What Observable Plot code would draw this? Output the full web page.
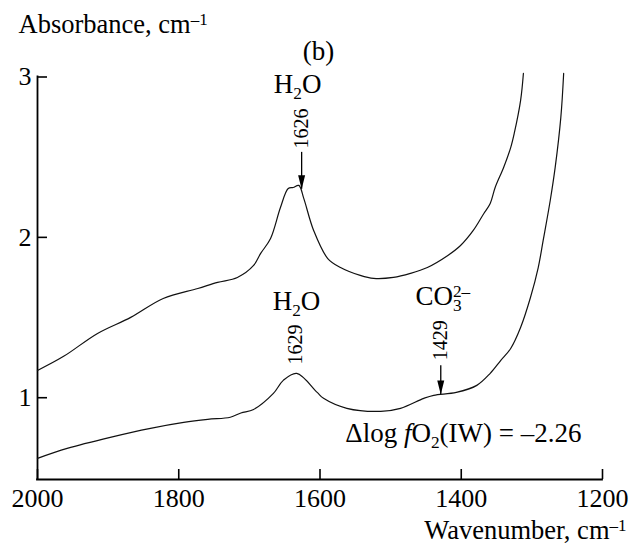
<!DOCTYPE html>
<html>
<head>
<meta charset="utf-8">
<script src="https://cdn.jsdelivr.net/npm/d3@7"></script>
<script src="https://cdn.jsdelivr.net/npm/@observablehq/plot@0.6"></script>
<style>
  html, body { margin: 0; padding: 0; background: #fff; overflow: hidden; }
  svg { display: block; }
  #chart svg, #chart svg text, #chart svg tspan {
    font-family: "Liberation Serif", "Times New Roman", "DejaVu Serif", serif !important;
  }
</style>
</head>
<body>
<div id="chart"></div>
<script>
// IR absorbance spectra, wavenumber (cm^-1) vs absorbance (cm^-1)
const upperW = [2000, 1963, 1915, 1868, 1822, 1773, 1745, 1717, 1694, 1684, 1670, 1656, 1645, 1638, 1630, 1623, 1609, 1589, 1571, 1543, 1524, 1496, 1472, 1448, 1419, 1401, 1383, 1368, 1359, 1352, 1340, 1330, 1325, 1316, 1312];
const upperA = [1.170, 1.258, 1.401, 1.501, 1.619, 1.681, 1.719, 1.750, 1.825, 1.900, 1.993, 2.186, 2.305, 2.311, 2.324, 2.243, 2.043, 1.868, 1.812, 1.763, 1.744, 1.750, 1.775, 1.812, 1.887, 1.949, 2.043, 2.149, 2.211, 2.311, 2.436, 2.560, 2.648, 2.853, 3.022];

const lowerW = [2000, 1958, 1897, 1840, 1793, 1759, 1727, 1712, 1694, 1666, 1652, 1633, 1604, 1595, 1562, 1514, 1486, 1453, 1439, 1407, 1378, 1359, 1344, 1330, 1316, 1302, 1291, 1284, 1274, 1267, 1259, 1255];
const lowerA = [0.622, 0.684, 0.753, 0.809, 0.846, 0.865, 0.878, 0.905, 0.927, 1.027, 1.108, 1.152, 1.033, 0.996, 0.934, 0.915, 0.934, 0.996, 1.015, 1.033, 1.077, 1.152, 1.233, 1.307, 1.438, 1.625, 1.812, 1.981, 2.230, 2.436, 2.748, 3.022];

// axes
const xTicks = [2000, 1800, 1600, 1400, 1200];
const yTicks = [1, 2, 3];
const xDomain = [2000, 1200];
const yDomain = [0.49, 3];

// peak markers: wavenumber, arrow tail and tip absorbance
const arrowW = [1626, 1429];
const arrowTail = [2.53, 1.20];
const arrowTip = [2.30, 1.02];

const upper = upperW.map((w, i) => ({w, a: upperA[i]}));
const lower = lowerW.map((w, i) => ({w, a: lowerA[i]}));
const arrows = arrowW.map((w, i) => ({w, tail: arrowTail[i], tip: arrowTip[i]}));

// narrow filled arrowhead with its tip at the origin
const arrowHead = {
  draw(context) {
    context.moveTo(0, 0);
    context.lineTo(-3.5, -14);
    context.lineTo(3.5, -14);
    context.closePath();
  }
};

const serif = "Liberation Serif, Times New Roman, serif";

const chart = Plot.plot({
  width: 633,
  height: 548,
  marginTop: 76.5,
  marginBottom: 69,
  marginLeft: 37,
  marginRight: 31,
  style: {fontFamily: serif, fontSize: "26px", color: "black", background: "white"},
  x: {domain: xDomain, ticks: xTicks, tickFormat: "d", tickSize: 0, tickPadding: 9, label: null},
  y: {domain: yDomain, ticks: yTicks, tickFormat: "d", tickSize: 0, tickPadding: 6, label: null},
  marks: [
    // axis lines and inward ticks
    Plot.ruleY([yDomain[0]], {stroke: "black", strokeWidth: 1.8, strokeLinecap: "square"}),
    Plot.ruleX([xDomain[0]], {stroke: "black", strokeWidth: 1.8, strokeLinecap: "square"}),
    Plot.ruleY(yTicks, {x1: xDomain[0], x2: xDomain[0], insetRight: -10, stroke: "black", strokeWidth: 1.6}),
    Plot.ruleX(xTicks, {y1: yDomain[0], y2: yDomain[0], insetTop: -10, stroke: "black", strokeWidth: 1.6}),

    // spectra
    Plot.line(upper, {x: "w", y: "a", curve: "catmull-rom", stroke: "#111", strokeWidth: 1.2}),
    Plot.line(lower, {x: "w", y: "a", curve: "catmull-rom", stroke: "#111", strokeWidth: 1.2}),

    // arrows
    Plot.ruleX(arrows, {x: "w", y1: "tail", y2: "tip", stroke: "black", strokeWidth: 1.3}),
    Plot.dot(arrows, {x: "w", y: "tip", symbol: arrowHead, fill: "black", stroke: null}),

    // axis titles
    Plot.text(["Absorbance, cm^{–1}"], {frameAnchor: "top-left", textAnchor: "start", lineAnchor: "bottom", dx: -19, dy: -44.5, fontSize: 26.5}),
    Plot.text(["Wavenumber, cm^{–1}"], {frameAnchor: "bottom-right", textAnchor: "end", lineAnchor: "bottom", dx: 24, dy: 59, fontSize: 26.5}),

    // panel label and band assignments
    Plot.text(["(b)"], {x: 1602, y: 3.103, lineAnchor: "bottom", fontSize: 27}),
    Plot.text(["H_{2}O"], {x: 1626, y: 2.903, dx: -4, lineAnchor: "bottom", fontSize: 27}),
    Plot.text(["1626"], {x: 1626, y: 2.679, rotate: -90, fontSize: 20}),
    Plot.text(["H_{2}O"], {x: 1629, y: 1.544, dx: -3, lineAnchor: "bottom", fontSize: 27}),
    Plot.text(["1629"], {x: 1629, y: 1.332, dx: -4, rotate: -90, fontSize: 20}),
    Plot.text(["CO_{3}^{2–}"], {x: 1429, y: 1.578, dx: 2, lineAnchor: "bottom", fontSize: 27}),
    Plot.text(["1429"], {x: 1429, y: 1.358, rotate: -90, fontSize: 20}),
    Plot.text(["Δlog *f*O_{2}(IW) = –2.26"], {x: 1229.7, y: 0.721, textAnchor: "end", lineAnchor: "bottom", fontSize: 27})
  ]
});

document.getElementById("chart").appendChild(chart);

// turn _{..} / ^{..} / *..* markup into subscript, superscript and italic tspans
const svgNS = "http://www.w3.org/2000/svg";
function richText(el) {
  const s = el.textContent;
  if (!/_\{|\^\{|\*/.test(s)) return;
  const base = parseFloat(getComputedStyle(el).fontSize) || 26;
  el.textContent = "";
  const re = /_\{([^}]*)\}|\^\{([^}]*)\}|\*([^*]*)\*|([^_^*]+)/g;
  let shift = 0, prevSub = null, m;
  while ((m = re.exec(s))) {
    const t = document.createElementNS(svgNS, "tspan");
    let target = 0;
    if (m[1] != null) {
      t.textContent = m[1];
      t.setAttribute("font-size", (base * 0.64).toFixed(1));
      target = 0.22 * base;
    } else if (m[2] != null) {
      t.textContent = m[2];
      t.setAttribute("font-size", (base * 0.64).toFixed(1));
      target = -0.3 * base;
    } else if (m[3] != null) {
      t.textContent = m[3];
      t.setAttribute("font-style", "italic");
    } else {
      t.textContent = m[4];
    }
    t.setAttribute("dy", (target - shift).toFixed(2));
    shift = target;
    el.appendChild(t);
    if (m[2] != null && prevSub) {
      t.setAttribute("dx", (-prevSub.getComputedTextLength()).toFixed(2));
    }
    prevSub = m[1] != null ? t : null;
  }
}
chart.querySelectorAll("text").forEach(richText);
</script>
</body>
</html>
